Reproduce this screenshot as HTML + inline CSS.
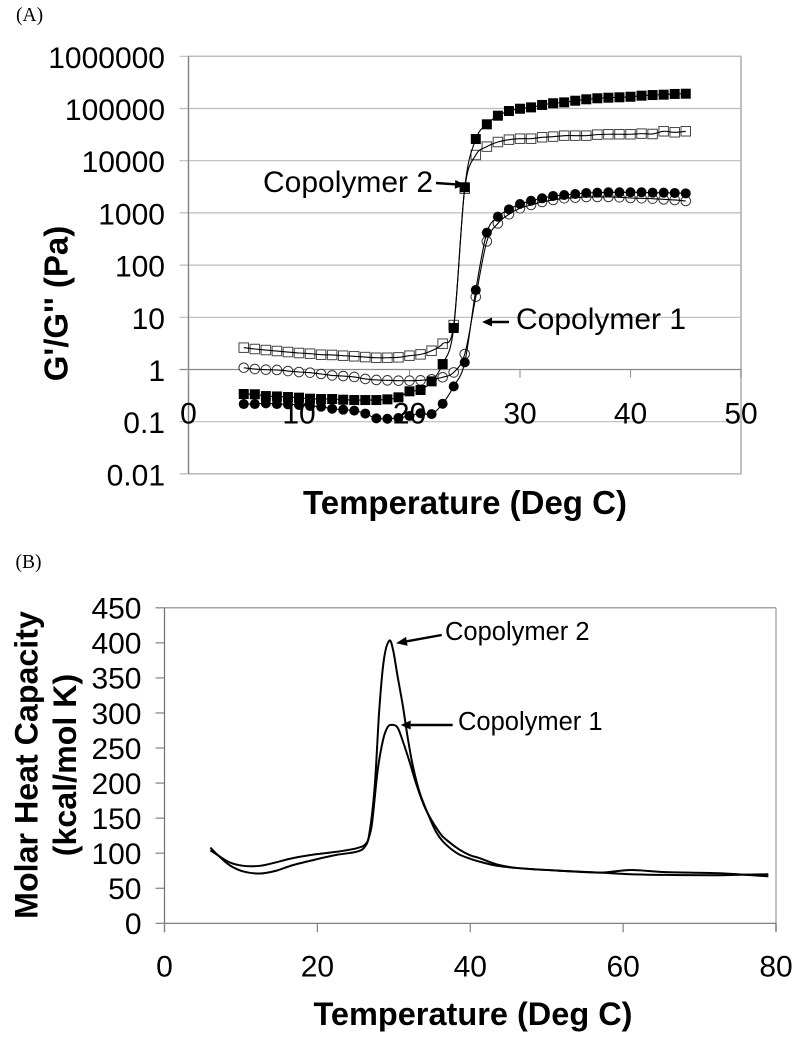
<!DOCTYPE html>
<html lang="en">
<head>
<meta charset="utf-8">
<title>Copolymer rheology and heat capacity</title>
<style>
html,body{margin:0;padding:0;background:#fff;}
body{width:800px;height:1039px;overflow:hidden;}
svg{display:block;}
text{font-family:"Liberation Sans",sans-serif;fill:#000;}
.serif{font-family:"Liberation Serif",serif;font-size:19.5px;}
</style>
</head>
<body>
<svg id="figure" xmlns="http://www.w3.org/2000/svg" width="800" height="1039" viewBox="0 0 800 1039">
  <text class="serif" x="16" y="21">(A)</text>
  <text class="serif" x="15.5" y="568">(B)</text>
  <g id="chartA"></g>
  <g id="chartB"></g>
  <text x="465" y="514" font-size="33" font-weight="bold" text-anchor="middle">Temperature (Deg C)</text>
  <text transform="translate(67.7,303.5) rotate(-90)" font-size="33" font-weight="bold" text-anchor="middle">G'/G'' (Pa)</text>
  <text x="473" y="1025" font-size="32.5" font-weight="bold" text-anchor="middle">Temperature (Deg C)</text>
  <text transform="translate(37.3,765) rotate(-90)" font-size="32.2" font-weight="bold" text-anchor="middle">Molar Heat Capacity</text>
  <text transform="translate(76,765) rotate(-90)" font-size="32.2" font-weight="bold" text-anchor="middle">(kcal/mol K)</text>
  <text x="263" y="192" font-size="30">Copolymer 2</text>
  <text x="516" y="329" font-size="30">Copolymer 1</text>
  <text x="445" y="640" font-size="25.5">Copolymer 2</text>
  <text x="458" y="730" font-size="25.5">Copolymer 1</text>
</svg>
<script>
// Panel A data
const tempA = [5,6,7,8,9,10,11,12,13,14,15,16,17,18,19,20,21,22,23,24,25,26,27,28,29,30,31,32,33,34,35,36,37,38,39,40,41,42,43,44,45];
const copolymer2Storage = [0.339,0.335,0.31,0.305,0.297,0.289,0.276,0.272,0.272,0.264,0.26,0.26,0.26,0.268,0.293,0.382,0.405,0.593,1.27,6.24,3100,26000,49800,72800,89500,99000,105000,117000,126000,131000,141000,150000,157000,161000,164000,168000,176000,181000,184000,190000,192000];
const copolymer2Loss = [2.62,2.47,2.36,2.26,2.16,2.07,2.01,1.92,1.9,1.84,1.79,1.73,1.68,1.68,1.71,1.84,1.95,2.29,3.12,7.1,2900,12850,18600,22800,25300,26400,26400,28100,28900,30200,30200,30200,31600,32100,32100,32100,33000,32500,36600,35000,36600];
const copolymer1Loss = [1.08,1.02,0.99,0.98,0.935,0.895,0.87,0.82,0.77,0.75,0.72,0.66,0.63,0.62,0.61,0.61,0.62,0.65,0.71,0.88,1.98,24.8,285,630,940,1225,1417,1620,1770,1905,1950,2020,2020,2020,1990,1930,1905,1875,1820,1770,1690];
const copolymer1Storage = [0.218,0.218,0.225,0.218,0.215,0.209,0.2,0.194,0.177,0.17,0.163,0.143,0.116,0.114,0.118,0.129,0.145,0.14,0.221,0.475,1.37,33.3,418,847,1170,1480,1710,1905,2110,2200,2300,2410,2440,2480,2480,2480,2480,2440,2440,2410,2370];
const xTicksA = [0,10,20,30,40,50];
const yTicksA = ["0.01","0.1","1","10","100","1000","10000","100000","1000000"];

// Panel B data
const xTicksB = [0,20,40,60,80];
const yTicksB = [0,50,100,150,200,250,300,350,400,450];
const tempTall = [6,7,8.5,10.3,12.5,14.6,16.8,19.9,22.5,25.1,26.2,26.8,27.5,28.1,28.7,29.4,29.9,30.5,31.2,31.8,32.5,33.4,34.7,35.5,36.4,37.5,38.6,40,41.2,43.5,46.4,51.7,57,61,65.6,72.6,79];
const heatTall = [108,97,83,74,71,75,83,91.4,97.6,102,109,128,195,305,376,403,390,352,309,266,224,186,150,131,117,106,98,92,88,82,78.6,75,72.3,70,69,68.6,70];
const tempShort = [6,7,8.5,10.3,12.5,14.6,16.8,19.9,22.5,25.1,26.4,27,27.3,27.9,28.6,29.2,29.8,30.5,31.2,32.1,32.9,34.2,36,37,38.6,40,41.2,43.5,46.4,51.7,57,61,65.6,72.6,79];
const heatShort = [104,97,87,82,82,87,93,98.6,102,107,114,133,157,219,262,280,283,279,259,229,200,162,129,118,105,97,93,84,78.6,75,72.3,76,73,71.4,67];

const NS = 'http://www.w3.org/2000/svg';
function make(parent, tag, attrs, text) {
  const el = document.createElementNS(NS, tag);
  Object.keys(attrs).forEach(function (k) { el.setAttribute(k, attrs[k]); });
  if (text !== undefined) el.textContent = text;
  parent.appendChild(el);
  return el;
}
function linearScale(d0, d1, r0, r1) {
  return function (v) { return r0 + (v - d0) * (r1 - r0) / (d1 - d0); };
}
function smoothPath(pts) {
  let d = 'M' + pts[0][0].toFixed(2) + ' ' + pts[0][1].toFixed(2);
  for (let i = 0; i < pts.length - 1; i++) {
    const p0 = pts[Math.max(0, i - 1)], p1 = pts[i], p2 = pts[i + 1], p3 = pts[Math.min(pts.length - 1, i + 2)];
    const c1x = p1[0] + (p2[0] - p0[0]) / 6, c1y = p1[1] + (p2[1] - p0[1]) / 6;
    const c2x = p2[0] - (p3[0] - p1[0]) / 6, c2y = p2[1] - (p3[1] - p1[1]) / 6;
    d += 'C' + c1x.toFixed(2) + ' ' + c1y.toFixed(2) + ' ' + c2x.toFixed(2) + ' ' + c2y.toFixed(2) + ' ' + p2[0].toFixed(2) + ' ' + p2[1].toFixed(2);
  }
  return d;
}
function arrow(parent, name, x1, y1, x2, y2, w, headLen, headW) {
  const g = make(parent, 'g', {});
  
  
  const a = Math.atan2(y2 - y1, x2 - x1), c = Math.cos(a), s = Math.sin(a);
  const bx = x2 - headLen * c, by = y2 - headLen * s;
  make(g, 'line', { x1: x1, y1: y1, x2: bx, y2: by, stroke: '#000', 'stroke-width': w });
  const pts = [[x2, y2], [bx - headW * s, by + headW * c], [bx + headW * s, by - headW * c]];
  make(g, 'polygon', { points: pts.map(function (p) { return p.join(','); }).join(' '), fill: '#000' });
}

// ---------- Panel A ----------
(function () {
  const root = document.getElementById('chartA');
  const L = 188.5, R = 741, T = 56.3, B = 473.9;
  const x = linearScale(0, 50, L, R);
  const logY = linearScale(-2, 6, B, T);
  const y = function (v) { return logY(Math.log10(v)); };

  make(root, 'rect', { x: L, y: T, width: R - L, height: B - T, fill: 'none', stroke: '#bdbdbd', 'stroke-width': 1.5 });
  make(root, 'line', { x1: R, y1: T, x2: R, y2: B, stroke: '#c0c0c0', 'stroke-width': 2 });

  yTicksA.forEach(function (label) {
    const py = y(parseFloat(label));
    const grid = make(root, 'line', { x1: L - 9, y1: py, x2: R, y2: py, stroke: parseFloat(label) === 1 ? '#888' : '#bbb', 'stroke-width': 1.2 });
    
    
    const t = make(root, 'text', { x: L - 23.5, y: py + 11.5, 'font-size': 30, 'text-anchor': 'end' }, label);
    
    
  });
  const yAxis = make(root, 'line', { x1: L, y1: T, x2: L, y2: B, stroke: '#808080', 'stroke-width': 1.2 });
  
  

  xTicksA.forEach(function (v) {
    const px = x(v);
    make(root, 'line', { x1: px, y1: y(1), x2: px, y2: y(1) + 8, stroke: '#999', 'stroke-width': 1.2 });
  });

  const series = [
    { name: 'copolymer-2-loss', vals: copolymer2Loss, shape: 'square', fill: '#fff' },
    { name: 'copolymer-1-loss', vals: copolymer1Loss, shape: 'circle', fill: '#fff' },
    { name: 'copolymer-2-storage', vals: copolymer2Storage, shape: 'square', fill: '#000' },
    { name: 'copolymer-1-storage', vals: copolymer1Storage, shape: 'circle', fill: '#000' }
  ];
  series.forEach(function (s) {
    const g = make(root, 'g', {});
    
    
    const pts = tempA.map(function (t, i) { return [x(t), y(s.vals[i])]; });
    pts.forEach(function (p) {
      if (s.shape === 'square') {
        const size = s.fill === '#000' ? 10 : 9.5;
        const m = make(g, 'rect', { x: p[0] - size / 2, y: p[1] - size / 2, width: size, height: size, fill: s.fill, stroke: s.fill === '#000' ? 'none' : '#444', 'stroke-width': 1 });
        
        
      } else {
        const m = make(g, 'circle', { cx: p[0], cy: p[1], r: s.fill === '#000' ? 5 : 4.8, fill: s.fill, stroke: s.fill === '#000' ? 'none' : '#333', 'stroke-width': 1 });
        
        
      }
    });
    const line = make(g, 'path', { d: smoothPath(pts), fill: 'none', stroke: '#000', 'stroke-width': 1.1 });
    
    
  });

  xTicksA.forEach(function (v) {
    const t = make(root, 'text', { x: x(v), y: y(1) + 54, 'font-size': 30, 'text-anchor': 'middle' }, String(v));
    
    
  });

  arrow(root, 'copolymer-2-arrow-a', 436, 183, 465, 185, 2.4, 10, 4.5);
  arrow(root, 'copolymer-1-arrow-a', 509, 322, 482, 322, 2.4, 10, 4.5);
})();

// ---------- Panel B ----------
(function () {
  const root = document.getElementById('chartB');
  const L = 164.5, R = 776, T = 607.8, B = 923.3;
  const x = linearScale(0, 80, L, R);
  const y = linearScale(0, 450, B, T);

  make(root, 'line', { x1: R, y1: T, x2: R, y2: B + 8, stroke: '#c4c4c4', 'stroke-width': 2 });

  yTicksB.forEach(function (v) {
    const py = y(v);
    make(root, 'line', { x1: L - 9, y1: py, x2: L, y2: py, stroke: '#808080', 'stroke-width': 1.2 });
    const t = make(root, 'text', { x: L - 23, y: py + 10.8, 'font-size': 30, 'text-anchor': 'end' }, String(v));
    
    
  });
  const top = make(root, 'line', { x1: L, y1: T, x2: R, y2: T, stroke: '#888', 'stroke-width': 1.2 });
  
  
  const yAxis = make(root, 'line', { x1: L, y1: T, x2: L, y2: B + 9, stroke: '#707070', 'stroke-width': 1.2 });
  
  
  const xAxis = make(root, 'line', { x1: L, y1: B, x2: R, y2: B, stroke: '#707070', 'stroke-width': 1.2 });
  
  

  xTicksB.forEach(function (v) {
    const px = x(v);
    make(root, 'line', { x1: px, y1: B, x2: px, y2: B + 9, stroke: '#808080', 'stroke-width': 1.2 });
    const t = make(root, 'text', { x: px, y: B + 53.4, 'font-size': 30, 'text-anchor': 'middle' }, String(v));
    
    
  });

  const tall = make(root, 'path', { d: smoothPath(tempTall.map(function (t, i) { return [x(t), y(heatTall[i])]; })), fill: 'none', stroke: '#000', 'stroke-width': 2 });
  
  
  const short = make(root, 'path', { d: smoothPath(tempShort.map(function (t, i) { return [x(t), y(heatShort[i])]; })), fill: 'none', stroke: '#000', 'stroke-width': 2 });
  
  

  arrow(root, 'copolymer-2-arrow-b', 441.7, 635, 396, 643.3, 2.4, 11, 4.5);
  arrow(root, 'copolymer-1-arrow-b', 452.7, 725, 400.7, 725, 2.4, 10, 4.5);
})();
</script>
</body>
</html>
